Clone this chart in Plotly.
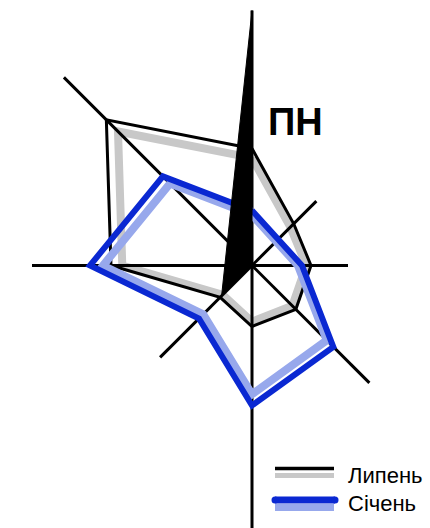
import numpy as np
import plotly.graph_objects as go

# Directions (clockwise from north)
directions = ["ПН", "ПнСх", "Сх", "ПдСх", "Пд", "ПдЗх", "Зх", "ПнЗх"]
angles_deg = [0, 45, 90, 135, 180, 225, 270, 315]

# Axis (spoke) lengths per direction
spoke_len = [255, 91, 96, 166, 275, 130, 220, 266]

# Series values
lypen = [117, 59, 59, 62, 61, 45, 141, 206]     # Липень
sichen = [55, 37, 50, 115, 140, 75, 162, 126]   # Січень

# North needle: (angle, radius) vertices
needle_angles = [0, 225, 0]
needle_r = [0, 43, 255]

W, H = 430, 528
CX, CY = 252, 265.5  # centre in pixels
SHADOW = 0.92

def to_xy(r, a):
    r = np.asarray(r, dtype=float)
    t = np.radians(np.asarray(a, dtype=float))
    return r * np.sin(t), r * np.cos(t)

def closed(vals):
    return list(vals) + [vals[0]], angles_deg + [angles_deg[0]]

fig = go.Figure()

# Grey shadow of Липень
r, a = closed(lypen)
x, y = to_xy(np.array(r) * SHADOW, a)
fig.add_trace(go.Scatter(x=x, y=y, mode="lines", line=dict(color="#c8c8c8", width=8),
                         hoverinfo="skip", showlegend=False))

# Spokes
for L, ang in zip(spoke_len, angles_deg):
    x, y = to_xy([0, L], [ang, ang])
    fig.add_trace(go.Scatter(x=x, y=y, mode="lines", line=dict(color="black", width=3),
                             hoverinfo="skip", showlegend=False))

# Липень
x, y = to_xy(r, a)
fig.add_trace(go.Scatter(x=x, y=y, mode="lines", line=dict(color="black", width=3),
                         name="Липень", showlegend=False))

# Light-blue shadow of Січень
r2, a2 = closed(sichen)
x, y = to_xy(np.array(r2) * SHADOW, a2)
fig.add_trace(go.Scatter(x=x, y=y, mode="lines", line=dict(color="#97a8ec", width=8),
                         hoverinfo="skip", showlegend=False))
# Січень
x, y = to_xy(r2, a2)
fig.add_trace(go.Scatter(x=x, y=y, mode="lines", line=dict(color="#0a28d2", width=6),
                         name="Січень", showlegend=False))

# North needle
x, y = to_xy(needle_r, needle_angles)
fig.add_trace(go.Scatter(x=list(x) + [x[0]], y=list(y) + [y[0]], mode="lines", fill="toself",
                         fillcolor="black", line=dict(color="black", width=1),
                         hoverinfo="skip", showlegend=False))

def px(xp):
    return xp / W

def py(yp):
    return 1 - yp / H

shapes = [
    dict(type="line", xref="paper", yref="paper", x0=px(275), x1=px(334), y0=py(475.5), y1=py(475.5),
         line=dict(color="#c8c8c8", width=5)),
    dict(type="line", xref="paper", yref="paper", x0=px(275), x1=px(334), y0=py(468.5), y1=py(468.5),
         line=dict(color="black", width=3.5)),
    dict(type="line", xref="paper", yref="paper", x0=px(275), x1=px(334), y0=py(507.5), y1=py(507.5),
         line=dict(color="#97a8ec", width=7)),
    dict(type="line", xref="paper", yref="paper", x0=px(275), x1=px(335), y0=py(500), y1=py(500),
         line=dict(color="#0a28d2", width=7)),
    dict(type="circle", xref="paper", yref="paper", x0=px(271.5), x1=px(278.5), y0=py(503.5), y1=py(496.5),
         fillcolor="#0a28d2", line=dict(width=0)),
    dict(type="circle", xref="paper", yref="paper", x0=px(331.5), x1=px(338.5), y0=py(503.5), y1=py(496.5),
         fillcolor="#0a28d2", line=dict(width=0)),
]

annotations = [
    dict(text="<b>ПН</b>", x=px(266), y=py(122), xref="paper", yref="paper", xanchor="left",
         yanchor="middle", showarrow=False, font=dict(family="Liberation Sans", size=38, color="black")),
    dict(text="Липень", x=px(346), y=py(475), xref="paper", yref="paper", xanchor="left",
         yanchor="middle", showarrow=False, font=dict(family="Liberation Sans", size=22, color="black")),
    dict(text="Січень", x=px(346), y=py(503), xref="paper", yref="paper", xanchor="left",
         yanchor="middle", showarrow=False, font=dict(family="Liberation Sans", size=22, color="black")),
]

fig.update_layout(
    width=W, height=H,
    margin=dict(l=0, r=0, t=0, b=0),
    paper_bgcolor="white", plot_bgcolor="white",
    xaxis=dict(range=[-CX, W - CX], visible=False, fixedrange=True),
    yaxis=dict(range=[-(H - CY), CY], visible=False, fixedrange=True),
    shapes=shapes, annotations=annotations,
    showlegend=False,
)

fig.write_html("out.html", config={"displayModeBar": False},
               post_script="document.body.style.margin='0';document.body.style.overflow='hidden';")
